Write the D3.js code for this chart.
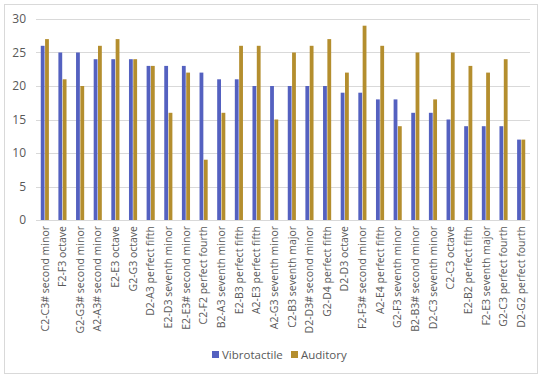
<!DOCTYPE html>
<html>
<head>
<meta charset="utf-8">
<script src="https://cdn.jsdelivr.net/npm/d3@7"></script>
<style>
  body { margin: 0; background: #fff; }
  svg { font-family: "Open Sans", "Noto Sans", sans-serif; }
</style>
</head>
<body>
<svg id="chart"></svg>
<script>
const intervals = [
  "C2-C3# second minor", "F2-F3 octave", "G2-G3# second minor", "A2-A3# second minor",
  "E2-E3 octave", "G2-G3 octave", "D2-A3 perfect fifth", "E2-D3 seventh minor",
  "E2-E3# second minor", "C2-F2 perfect fourth", "B2-A3 seventh minor", "E2-B3 perfect fifth",
  "A2-E3 perfect fifth", "A2-G3 seventh minor", "C2-B3 seventh major", "D2-D3# second minor",
  "G2-D4 perfect fifth", "D2-D3 octave", "F2-F3# second minor", "A2-E4 perfect fifth",
  "G2-F3 seventh minor", "B2-B3# second minor", "D2-C3 seventh minor", "C2-C3 octave",
  "E2-B2 perfect fifth", "F2-E3 seventh major", "G2-C3 perfect fourth", "D2-G2 perfect fourth"
];
const vibrotactile = [26, 25, 25, 24, 24, 24, 23, 23, 23, 22, 21, 21, 20, 20, 20, 20, 20, 19, 19, 18, 18, 16, 16, 15, 14, 14, 14, 12];
const auditory     = [27, 21, 20, 26, 27, 24, 23, 16, 22, 9, 16, 26, 26, 15, 25, 26, 27, 22, 29, 26, 14, 25, 18, 25, 23, 22, 24, 12];
const seriesNames = ["Vibrotactile", "Auditory"];
const colors = ["#5461c0", "#b48e2e"];
const yTicks = [0, 5, 10, 15, 20, 25, 30];

const width = 550, height = 382;
const margin = { left: 36, right: 20, top: 19, bottom: 162 };

const svg = d3.select("#chart").attr("width", width).attr("height", height);

// chart frame
svg.append("rect")
  .attr("x", 4.5).attr("y", 4.5)
  .attr("width", 533).attr("height", 369)
  .attr("fill", "#fff").attr("stroke", "#d9d9d9");

const x = d3.scaleBand()
  .domain(intervals)
  .range([margin.left, width - margin.right]);

const xInner = d3.scaleBand()
  .domain(seriesNames)
  .range([0, x.bandwidth()])
  .paddingInner(0.12)
  .paddingOuter(1.1);

const y = d3.scaleLinear()
  .domain([0, 30])
  .range([height - margin.bottom, margin.top]);

// gridlines
svg.append("g")
  .selectAll("line")
  .data(yTicks)
  .join("line")
  .attr("x1", margin.left)
  .attr("x2", width - margin.right)
  .attr("y1", d => Math.round(y(d)) + 0.5)
  .attr("y2", d => Math.round(y(d)) + 0.5)
  .attr("stroke", "#d9d9d9");

// y labels
svg.append("g")
  .selectAll("text")
  .data(yTicks)
  .join("text")
  .attr("x", 26)
  .attr("y", d => y(d))
  .attr("dy", "0.35em")
  .attr("text-anchor", "end")
  .attr("fill", "#595959")
  .style("font-size", "12px")
  .text(d => d);

// bars
const groups = svg.append("g")
  .selectAll("g")
  .data(intervals)
  .join("g")
  .attr("transform", d => `translate(${x(d)},0)`);

groups.selectAll("rect")
  .data((d, i) => [vibrotactile[i], auditory[i]].map((v, k) => ({ key: seriesNames[k], value: v })))
  .join("rect")
  .attr("x", d => xInner(d.key))
  .attr("width", xInner.bandwidth())
  .attr("y", d => y(d.value))
  .attr("height", d => y(0) - y(d.value))
  .attr("fill", (d, k) => colors[k]);

// category labels, rotated
svg.append("g")
  .selectAll("text")
  .data(intervals)
  .join("text")
  .attr("transform", d => `translate(${x(d) + x.bandwidth() / 2},${y(0) + 6}) rotate(-90)`)
  .attr("text-anchor", "end")
  .attr("dy", "0.35em")
  .attr("fill", "#595959")
  .style("font-size", "10.5px")
  .text(d => d);

// legend
const legend = svg.append("g").attr("transform", "translate(212,355)");
const legendX = [0, 79];
seriesNames.forEach((name, k) => {
  legend.append("rect")
    .attr("x", legendX[k]).attr("y", -4)
    .attr("width", 7).attr("height", 7)
    .attr("fill", colors[k]);
  legend.append("text")
    .attr("x", legendX[k] + 10).attr("y", 0)
    .attr("dy", "0.35em")
    .attr("fill", "#595959")
    .style("font-size", "11.5px")
    .text(name);
});
</script>
</body>
</html>
